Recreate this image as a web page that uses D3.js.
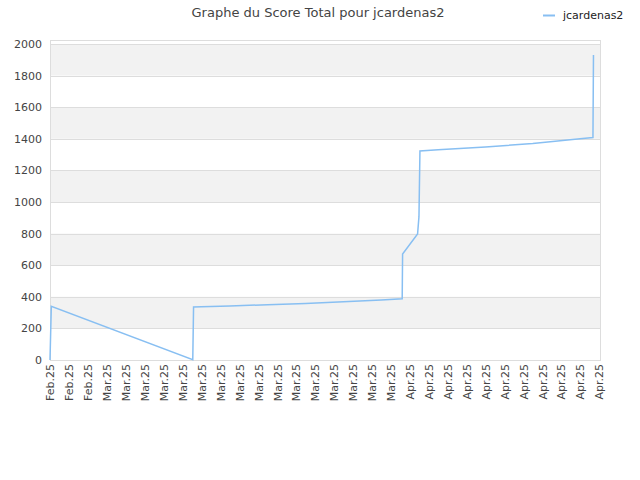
<html>
  <head>
    <title>Graphe du Score Total</title>
    <style>
      body { margin: 0; background: #fff; }
      text { font-family: "DejaVu Sans", sans-serif; }
    </style>
  </head>
  <body>
  </body>

  <script src="https://d3js.org/d3.v7.min.js" charset="utf-8"></script>
  <script type="text/javascript">

// score history
var dates = [
  '2025-02-23T00:00', '2025-02-23T03:20', '2025-03-10T02:00', '2025-03-10T04:00',
  '2025-03-11T00:00', '2025-03-14T00:00', '2025-03-18T00:00', '2025-03-22T00:00',
  '2025-03-26T00:00', '2025-03-30T00:00', '2025-04-01T05:00', '2025-04-01T06:00',
  '2025-04-02T20:00', '2025-04-02T23:30', '2025-04-03T02:00', '2025-04-05T00:00',
  '2025-04-10T00:00', '2025-04-15T00:00', '2025-04-20T00:00', '2025-04-21T08:40',
  '2025-04-21T10:00'
];
var scores = [
  0, 340, 2, 335,
  337, 342, 350, 358,
  368, 380, 388, 671,
  797, 907, 1323, 1330,
  1348, 1370, 1400, 1408,
  1930
];

// x tick labels, one every two days from Feb 23 to Apr 22
var tickDates = d3.timeDay.range(new Date(2025, 1, 23), new Date(2025, 3, 23), 2);
var monthNames = {1: 'Feb', 2: 'Mar', 3: 'Apr'};
var yTicks = [0, 200, 400, 600, 800, 1000, 1200, 1400, 1600, 1800, 2000];

var seriesName = 'jcardenas2';
var title = 'Graphe du Score Total pour jcardenas2';

var w = 640, h = 480;
var margin = {top: 40, right: 40, bottom: 120, left: 50};
var pw = w - margin.left - margin.right,
    ph = h - margin.top - margin.bottom;

var parse = d3.timeParse('%Y-%m-%dT%H:%M');
var data = dates.map(function(d, i){
  return {date: parse(d), score: scores[i]};
});

var svg = d3.select('body').append('svg')
    .attr('width', w)
    .attr('height', h);

var x = d3.scaleTime()
    .domain([new Date(2025, 1, 23), new Date(2025, 3, 22)])
    .range([0, pw - 1]);

var y = d3.scaleLinear()
    .domain([0, 2025])
    .range([ph, 0]);

var g = svg.append('g')
    .attr('transform', 'translate(' + margin.left + ',' + margin.top + ')');

// alternating bands
var bands = d3.range(200, 2025, 400);
g.selectAll('rect.band')
  .data(bands)
  .enter()
  .append('rect')
  .attr('class', 'band')
  .attr('x', 0)
  .attr('width', pw)
  .attr('y', function(d){ return y(Math.min(d + 200, 2025)); })
  .attr('height', function(d){ return y(d) - y(Math.min(d + 200, 2025)); })
  .style('fill', '#f2f2f2');

// horizontal grid
g.selectAll('line.grid')
  .data(yTicks)
  .enter()
  .append('line')
  .attr('x1', 0)
  .attr('x2', pw)
  .attr('y1', function(d){ return Math.round(y(d)) + 0.5; })
  .attr('y2', function(d){ return Math.round(y(d)) + 0.5; })
  .style('stroke', '#dddddd')
  .style('stroke-width', 1);

// frame
g.append('rect')
  .attr('x', 0.5)
  .attr('y', 0.5)
  .attr('width', pw)
  .attr('height', ph)
  .style('fill', 'none')
  .style('stroke', '#dddddd');

// y axis labels
var yAxis = d3.axisLeft(y)
    .tickValues(yTicks)
    .tickSize(0)
    .tickPadding(8)
    .tickFormat(d3.format('d'));
var ya = g.append('g').call(yAxis);
ya.select('.domain').remove();
ya.selectAll('text')
  .style('font-size', '11px')
  .style('fill', '#444');

// x axis labels
var xAxis = d3.axisBottom(x)
    .tickValues(tickDates)
    .tickSize(0)
    .tickFormat(function(d){ return monthNames[d.getMonth()] + '.25'; });
var xa = g.append('g')
    .attr('transform', 'translate(0,' + ph + ')')
    .call(xAxis);
xa.select('.domain').remove();
xa.selectAll('text')
  .style('font-size', '11px')
  .style('fill', '#444')
  .attr('text-anchor', 'end')
  .attr('transform', 'rotate(-90)')
  .attr('x', -4)
  .attr('y', 0)
  .attr('dy', '0.35em');

// the score line
var line = d3.line()
    .x(function(d){ return x(d.date); })
    .y(function(d){ return y(d.score); });

g.append('path')
  .datum(data)
  .attr('d', line)
  .style('fill', 'none')
  .style('stroke', '#88bff2')
  .style('stroke-width', 1.5);

// title
svg.append('text')
  .attr('x', 318)
  .attr('y', 17)
  .attr('text-anchor', 'middle')
  .style('font-size', '13px')
  .style('fill', '#444')
  .text(title);

// legend
svg.append('line')
  .attr('x1', 543)
  .attr('x2', 555)
  .attr('y1', 15.5)
  .attr('y2', 15.5)
  .style('stroke', '#88bff2')
  .style('stroke-width', 2);
svg.append('text')
  .attr('x', 563)
  .attr('y', 19)
  .style('font-size', '11px')
  .style('fill', '#222')
  .text(seriesName);

  </script>
</html>
